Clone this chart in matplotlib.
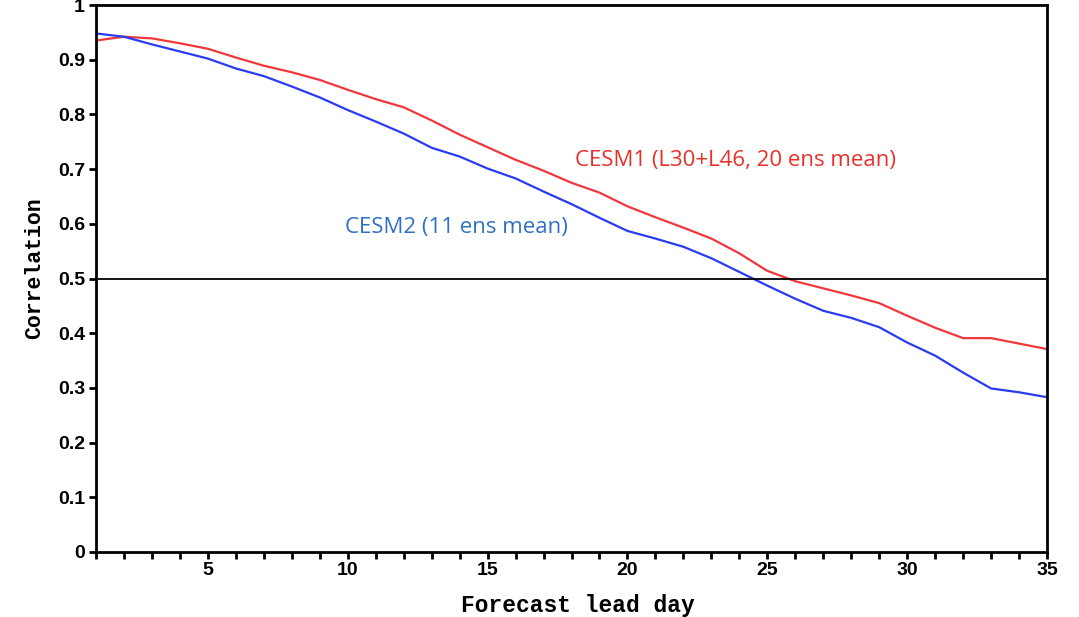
import matplotlib
matplotlib.use("Agg")
import matplotlib.pyplot as plt
from matplotlib.ticker import MultipleLocator, FixedLocator

days = list(range(1, 36))
cesm1 = [0.935, 0.942, 0.939, 0.930, 0.920, 0.904, 0.889, 0.877, 0.863, 0.845,
         0.828, 0.813, 0.789, 0.763, 0.740, 0.717, 0.697, 0.675, 0.657, 0.632,
         0.612, 0.593, 0.573, 0.546, 0.514, 0.495, 0.482, 0.469, 0.455, 0.432,
         0.410, 0.391, 0.391, 0.381, 0.371]
cesm2 = [0.948, 0.942, 0.928, 0.915, 0.902, 0.884, 0.870, 0.851, 0.831, 0.808,
         0.787, 0.765, 0.739, 0.723, 0.701, 0.683, 0.659, 0.636, 0.611, 0.587,
         0.573, 0.558, 0.537, 0.512, 0.487, 0.463, 0.441, 0.428, 0.411, 0.383,
         0.359, 0.328, 0.299, 0.292, 0.283]
xticks = [5, 10, 15, 20, 25, 30, 35]
yticks = [0, 0.1, 0.2, 0.3, 0.4, 0.5, 0.6, 0.7, 0.8, 0.9, 1]
ytick_labels = ["0", "0.1", "0.2", "0.3", "0.4", "0.5", "0.6", "0.7", "0.8", "0.9", "1"]
label1 = "CESM1 (L30+L46, 20 ens mean)"
label2 = "CESM2 (11 ens mean)"

fig = plt.figure(figsize=(10.79, 6.17), dpi=100)
ax = fig.add_axes([96/1079, 1 - 552/617, (1047 - 96)/1079, (552 - 5)/617])

ax.plot(days, cesm1, color="#f0383c", lw=1.6)
ax.plot(days, cesm2, color="#2a3cf0", lw=1.6)
ax.axhline(0.5, color="black", lw=1.3)

ax.set_xlim(1, 35)
ax.set_ylim(0, 1)
ax.xaxis.set_major_locator(FixedLocator(xticks))
ax.xaxis.set_minor_locator(MultipleLocator(1))
ax.set_yticks(yticks)
ax.set_yticklabels(ytick_labels)

for s in ax.spines.values():
    s.set_linewidth(2)
ax.tick_params(axis="both", which="both", direction="out", length=5, width=2)
for lab in ax.get_xticklabels() + ax.get_yticklabels():
    lab.set_fontfamily("Liberation Sans")
    lab.set_fontweight("bold")
    lab.set_fontsize(14)
ax.tick_params(axis="x", pad=2)
ax.tick_params(axis="y", pad=3)

ax.set_xlabel("Forecast lead day", fontfamily="Liberation Mono", fontweight="bold",
              fontsize=16.5, labelpad=11)
ax.xaxis.label.set_x(0.507)
ax.set_ylabel("Correlation", fontfamily="Liberation Mono", fontweight="bold",
              fontsize=15.5, labelpad=9)
ax.yaxis.label.set_y(0.518)

ax.text(18.13, 0.716, label1, color="#e8302a", fontfamily="Open Sans", fontsize=16,
        va="center", ha="left")
ax.text(9.9, 0.594, label2, color="#3070c4", fontfamily="Open Sans", fontsize=16,
        va="center", ha="left")

fig.savefig("out.png", dpi=100)
